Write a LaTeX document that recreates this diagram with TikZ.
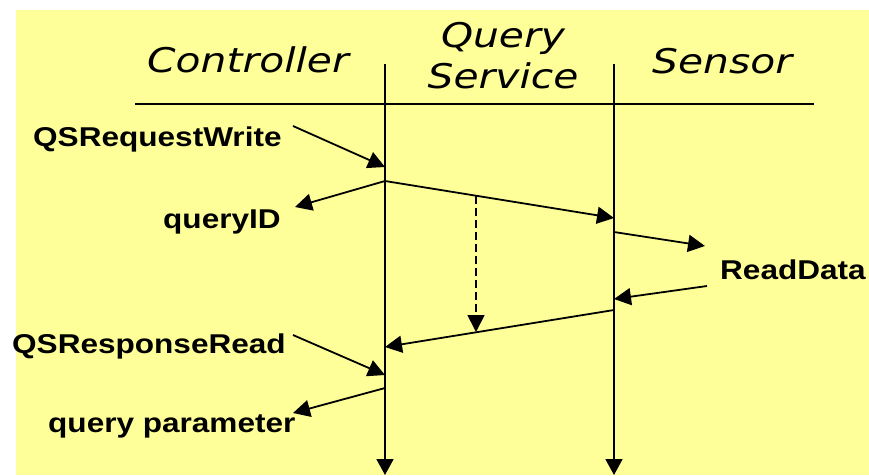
\documentclass[tikz,border=0pt]{standalone}
\usepackage{fontspec}
\usetikzlibrary{arrows.meta}
\newfontfamily\lblfont{Liberation Sans}[FakeStretch=1.16]
\newfontfamily\hdrfont{DejaVu Sans}[FakeStretch=1.2]
\definecolor{paneyellow}{HTML}{FFFF99}
\tikzset{
  msg/.style={line width=1.8pt, -{Triangle[length=17pt,width=17pt]}},
  lifeline/.style={line width=1.8pt, -{Triangle[length=16pt,width=17pt]}},
  rule/.style={line width=1.8pt},
  lbl/.style={inner sep=0pt, anchor=base west, font=\lblfont\bfseries\fontsize{27.2}{30}\selectfont},
  hdr/.style={inner sep=0pt, font=\hdrfont\itshape\fontsize{34}{41}\selectfont}
}
\begin{document}
\begin{tikzpicture}[x=1pt,y=-1pt]
  \useasboundingbox (0,0) rectangle (869,475);
  \fill[paneyellow] (16,10) rectangle (869,475);

  % column headings
  \node[hdr, anchor=base west] (ctl) at (147,72) {Controller};
  \node[hdr, anchor=base, align=center] (qs) at (503,88) {Query\\Service};
  \node[hdr, anchor=base west] (sen) at (652,73) {Sensor};

  % heading rule and lifelines
  \coordinate (ruleL) at (135,104);
  \coordinate (ruleR) at (814,104);
  \draw[rule] (ruleL) -- (ruleR);
  \coordinate (qsTop) at (385,64);
  \coordinate (qsEnd) at (385,475);
  \coordinate (snTop) at (614,64);
  \coordinate (snEnd) at (614,475);
  \draw[lifeline] (qsTop) -- (qsEnd);
  \draw[lifeline] (snTop) -- (snEnd);

  % labels
  \node[lbl] (reqw) at (33,146) {QSRequestWrite};
  \node[lbl] (qid) at (163,228) {queryID};
  \node[lbl] (rdata) at (720,279) {ReadData};
  \node[lbl] (resp) at (12,353) {QSResponseRead};
  \node[lbl] (qpar) at (48,432) {query parameter};

  % message end points
  \coordinate (reqwFrom) at (293,126);
  \coordinate (reqwIn) at (385,167);
  \coordinate (qsOut) at (385,181);
  \coordinate (qidTo) at (295,207);
  \coordinate (snIn) at (614,218);
  \coordinate (snOut) at (614,232);
  \coordinate (rdTo) at (705,246);
  \coordinate (rdFrom) at (707,286);
  \coordinate (snBack) at (614,299);
  \coordinate (snRet) at (614,310);
  \coordinate (qsRet) at (385,347);
  \coordinate (dashTop) at (476,196);
  \coordinate (dashEnd) at (476,332);
  \coordinate (respFrom) at (293,335);
  \coordinate (respIn) at (385,375);
  \coordinate (qsOut2) at (385,388);
  \coordinate (qparTo) at (293,413);

  % messages
  \draw[msg] (reqwFrom) -- (reqwIn);
  \draw[msg] (qsOut) -- (qidTo);
  \draw[msg] (qsOut) -- (snIn);
  \draw[msg] (snOut) -- (rdTo);
  \draw[msg] (rdFrom) -- (snBack);
  \draw[msg] (snRet) -- (qsRet);
  \draw[msg, dash pattern=on 8pt off 4pt] (dashTop) -- (dashEnd);
  \draw[msg] (respFrom) -- (respIn);
  \draw[msg] (qsOut2) -- (qparTo);
\end{tikzpicture}
\end{document}
